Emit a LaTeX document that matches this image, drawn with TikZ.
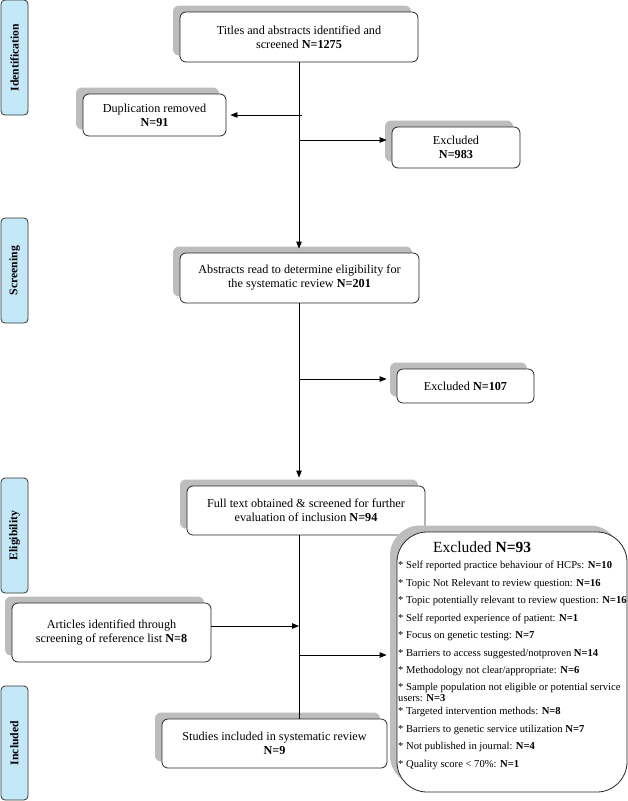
\documentclass[tikz,border=0pt]{standalone}
\usepackage{fontspec}
\setmainfont{Liberation Serif}
\usetikzlibrary{shadows,arrows.meta}
\definecolor{stageblue}{HTML}{C4E8F8}
\definecolor{shadowgray}{HTML}{BDBDBD}
\begin{document}
\begin{tikzpicture}[x=1pt,y=-1pt,
  box/.style={draw=black!85, line width=0.8pt, rounded corners=6pt, fill=white, align=center,
    font=\fontsize{12.2}{14}\selectfont, inner sep=2pt,
    drop shadow={shadow xshift=-7pt, shadow yshift=6.5pt, fill=shadowgray, opacity=1}},
  stage/.style={draw=black!80, line width=0.8pt, fill=stageblue, rounded corners=4pt,
    minimum height=27pt, font=\bfseries\fontsize{11.7}{13}\selectfont, rotate=90, inner sep=0pt},
  conn/.style={line width=0.8pt, black},
  arr/.style={conn, -{Triangle[length=7pt,width=5.5pt]}}
]
\useasboundingbox (0,0) rectangle (628,801);

% stage labels
\node[stage, minimum width=115pt] (sid) at (14.5,57.5) {Identification};
\node[stage, minimum width=105pt] (ssc) at (14.5,270.5) {Screening};
\node[stage, minimum width=115pt] (sel) at (14.5,535.5) {Eligibility};
\node[stage, minimum width=114pt] (sin) at (14.5,743) {Included};

% boxes
\node[box, minimum width=238pt, minimum height=50pt] (box1) at (299,37)
  {Titles and abstracts identified and\\ screened \textbf{N=1275}};
\node[box, minimum width=143pt, minimum height=42pt] (dup) at (154.5,115)
  {Duplication removed\\ \textbf{N=91}};
\node[box, minimum width=128pt, minimum height=41pt] (exc983) at (456,147.5)
  {Excluded\\ \textbf{N=983}};
\node[box, minimum width=239pt, minimum height=50pt] (box2) at (299.5,278)
  {Abstracts read to determine eligibility for\\ the systematic review \textbf{N=201}};
\node[box, minimum width=137pt, minimum height=34pt] (exc107) at (465.5,386)
  {Excluded \textbf{N=107}};
\node[box, minimum width=238pt, minimum height=49pt] (box3) at (306,510.5)
  {Full text obtained \& screened for further\\ evaluation of inclusion \textbf{N=94}};
\node[box, minimum width=230pt, minimum height=260pt, rounded corners=30pt] (exc93) at (512,662) {};
\node[box, minimum width=199pt, minimum height=59pt] (art) at (111.5,632.5)
  {Articles identified through\\ screening of reference list \textbf{N=8}};
\node[box, minimum width=225pt, minimum height=49pt] (box4) at (274.5,743.5)
  {Studies included in systematic review\\ \textbf{N=9}};

% contents of the large exclusion box
\node[anchor=base west, inner sep=0pt, font=\fontsize{15.5}{17}\selectfont] (exct) at (433,552)
  {Excluded \textbf{N=93}};
\node[anchor=north west, inner sep=0pt, align=left, font=\fontsize{10.6}{11.5}\selectfont] (excl) at (398,561)
  {* Self reported practice behaviour of HCPs: \textbf{N=10}\\[6pt]
   * Topic Not Relevant to review question: \textbf{N=16}\\[6pt]
   * Topic potentially relevant to review question: \textbf{N=16}\\[6pt]
   * Self reported experience of patient: \textbf{N=1}\\[6pt]
   * Focus on genetic testing: \textbf{N=7}\\[6pt]
   * Barriers to access suggested/notproven \textbf{N=14}\\[6pt]
   * Methodology not clear/appropriate: \textbf{N=6}\\[5pt]
   * Sample population not eligible or potential service\\
   users: \textbf{N=3}\\[1.5pt]
   * Targeted intervention methods: \textbf{N=8}\\[6pt]
   * Barriers to genetic service utilization \textbf{N=7}\\[6pt]
   * Not published in journal: \textbf{N=4}\\[6pt]
   * Quality score < 70\%: \textbf{N=1}};

% junction points on the main line
\coordinate (j1) at (302,115);
\coordinate (j2) at (299,140);
\coordinate (j3) at (299,379);
\coordinate (j4) at (299,626);
\coordinate (j5) at (299,655);

% connectors
\draw[arr, shorten >=4pt] (box1.south) -- (box1.south |- box2.north);
\draw[arr, shorten >=4pt] (j1) -- (dup.east);
\draw[arr, shorten >=5pt] (j2) -- (exc983.west |- j2);
\draw[arr, shorten >=8pt] (box1.south |- box2.south) -- (box1.south |- box3.north);
\draw[arr, shorten >=10pt] (j3) -- (exc107.west |- j3);
\draw[conn] (box1.south |- box3.south) -- (box1.south |- box4.north);
\draw[arr] ([yshift=6.5pt]art.east) -- (j4);
\draw[arr, shorten >=10pt] (j5) -- (exc93.west |- j5);
\end{tikzpicture}
\end{document}
